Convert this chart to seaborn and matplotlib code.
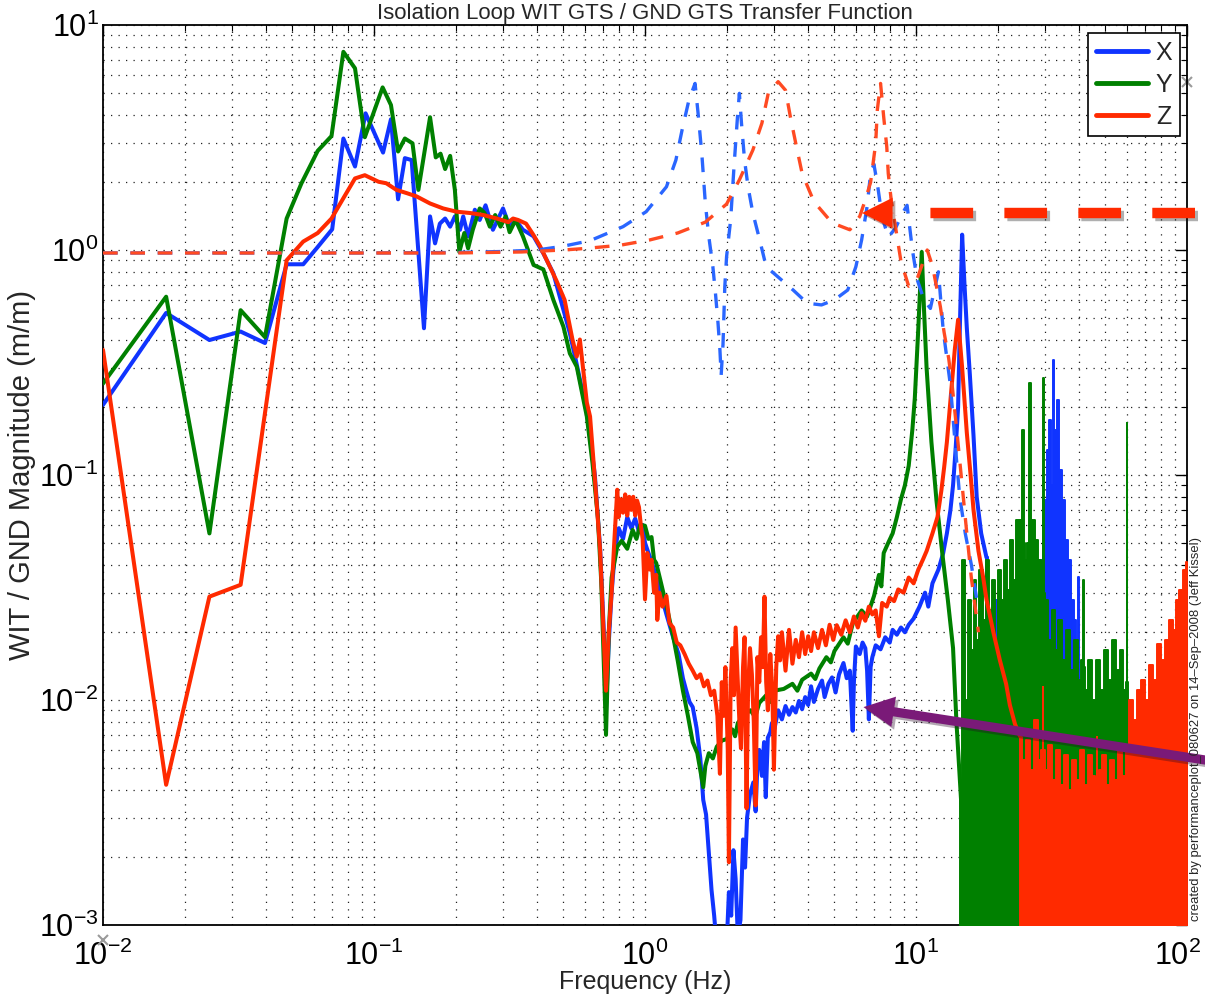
import matplotlib
matplotlib.use("Agg")
import matplotlib.pyplot as plt
import matplotlib.patheffects as pe
import numpy as np
import pandas as pd
import seaborn as sns
from matplotlib.ticker import LogLocator, NullFormatter, LogFormatterSciNotation
from matplotlib.transforms import ScaledTranslation

# ---------------------------------------------------------------- data
# Measured WIT/GND transfer function magnitudes, (frequency Hz, magnitude m/m)
x_points = [
    (0.01, 0.205), (0.0171, 0.525), (0.0247, 0.398), (0.0322, 0.434), (0.0396, 0.386),
    (0.0476, 0.864), (0.0548, 0.864), (0.0614, 1.017), (0.0701, 1.236), (0.0771, 3.13),
    (0.0851, 2.35), (0.0931, 4.05), (0.108, 2.71), (0.1155, 3.81), (0.1227, 1.68),
    (0.130, 2.56), (0.1377, 2.51), (0.1529, 0.449), (0.161, 1.41), (0.168, 1.07),
    (0.175, 1.31), (0.183, 1.38), (0.191, 1.27), (0.1988, 1.41), (0.2077, 1.23),
    (0.2134, 1.41), (0.2225, 1.15), (0.2356, 1.51), (0.2455, 1.36), (0.258, 1.58),
    (0.2747, 1.23), (0.2993, 1.53), (0.3165, 1.27), (0.333, 1.36), (0.3544, 1.23),
    (0.388, 1.15), (0.4216, 0.966), (0.459, 0.788), (0.50, 0.541), (0.528, 0.427),
    (0.56, 0.31), (0.61, 0.19), (0.653, 0.1), (0.683, 0.047), (0.705, 0.02),
    (0.718, 0.009), (0.735, 0.018), (0.753, 0.03), (0.775, 0.046), (0.80, 0.058),
    (0.83, 0.052), (0.86, 0.065), (0.89, 0.058), (0.92, 0.064), (0.95, 0.056),
    (0.98, 0.06), (1.0, 0.05), (1.03, 0.045), (1.06, 0.041), (1.1, 0.035),
    (1.15, 0.029), (1.2, 0.024), (1.27, 0.019), (1.33, 0.016), (1.38, 0.0125),
    (1.42, 0.011), (1.46, 0.0098), (1.5, 0.0093), (1.55, 0.0075), (1.6, 0.0055),
    (1.64, 0.0036), (1.68, 0.0031), (1.72, 0.0021), (1.76, 0.00143), (1.80, 0.0011),
    (1.84, 0.0008), (1.9, 0.0007), (1.95, 0.0009), (2.0, 0.0008), (2.04, 0.0014),
    (2.08, 0.0011), (2.12, 0.00215), (2.16, 0.0016), (2.2, 0.0009), (2.25, 0.00105),
    (2.3, 0.0024), (2.34, 0.0018), (2.38, 0.003), (2.44, 0.0038), (2.51, 0.0043),
    (2.56, 0.0032), (2.6, 0.0052), (2.64, 0.006), (2.7, 0.0046), (2.75, 0.0065),
    (2.79, 0.0037), (2.84, 0.0068), (2.9, 0.0072), (2.94, 0.0079), (3.0, 0.0074),
    (3.1, 0.009), (3.2, 0.0082), (3.3, 0.0094), (3.4, 0.0086), (3.5, 0.0093),
    (3.6, 0.0088), (3.7, 0.0099), (3.8, 0.0091), (3.9, 0.0103), (4.0, 0.0095),
    (4.1, 0.0115), (4.2, 0.0098), (4.35, 0.0112), (4.5, 0.0122), (4.6, 0.0103),
    (4.75, 0.0118), (4.9, 0.0126), (5.05, 0.0108), (5.2, 0.013), (5.4, 0.0146),
    (5.55, 0.0125), (5.7, 0.0135), (5.84, 0.0073), (5.9, 0.012), (6.0, 0.0173),
    (6.2, 0.016), (6.35, 0.018), (6.5, 0.017), (6.6, 0.0135), (6.7, 0.0082),
    (6.8, 0.014), (6.9, 0.0155), (7.1, 0.0175), (7.4, 0.0168), (7.7, 0.019),
    (8.0, 0.018), (8.2, 0.0205), (8.5, 0.0195), (8.8, 0.021), (9.1, 0.02),
    (9.4, 0.0216), (9.8, 0.023), (10.3, 0.026), (10.8, 0.03), (11.1, 0.026),
    (11.5, 0.033), (12.1, 0.038), (12.6, 0.045), (13.0, 0.055), (13.4, 0.07),
    (13.7, 0.09), (14.0, 0.13), (14.3, 0.2), (14.5, 0.43), (14.8, 1.17),
    (15.1, 0.7), (15.4, 0.45), (15.8, 0.28), (16.3, 0.15), (16.75, 0.08),
    (17.4, 0.055), (18.2, 0.043),
]

y_points = [
    (0.01, 0.255), (0.0171, 0.62), (0.0247, 0.055), (0.0322, 0.54), (0.0396, 0.41),
    (0.0476, 1.38), (0.054, 1.98), (0.062, 2.76), (0.0697, 3.21), (0.0771, 7.6),
    (0.0851, 6.42), (0.0925, 3.17), (0.1076, 5.28), (0.1155, 4.41), (0.1227, 2.74),
    (0.130, 3.13), (0.1387, 2.98), (0.1458, 1.85), (0.161, 3.89), (0.169, 2.58),
    (0.176, 2.68), (0.183, 2.29), (0.191, 2.62), (0.1988, 1.85), (0.2065, 0.98),
    (0.2154, 1.19), (0.2225, 1.017), (0.2315, 1.23), (0.2455, 1.53), (0.256, 1.46),
    (0.2675, 1.27), (0.28, 1.43), (0.293, 1.27), (0.306, 1.41), (0.3165, 1.2),
    (0.333, 1.36), (0.3544, 1.15), (0.388, 0.858), (0.4216, 0.82), (0.459, 0.6),
    (0.50, 0.456), (0.528, 0.347), (0.56, 0.303), (0.61, 0.182), (0.64, 0.113),
    (0.67, 0.065), (0.69, 0.033), (0.718, 0.007), (0.735, 0.02), (0.753, 0.035),
    (0.79, 0.048), (0.82, 0.051), (0.86, 0.047), (0.9, 0.057), (0.93, 0.052),
    (0.96, 0.06), (1.0, 0.0595), (1.03, 0.052), (1.057, 0.053), (1.08, 0.042),
    (1.1, 0.0406), (1.14, 0.034), (1.17, 0.0298), (1.22, 0.024), (1.27, 0.0192),
    (1.32, 0.015), (1.38, 0.011), (1.44, 0.0085), (1.5, 0.0065), (1.56, 0.0058),
    (1.64, 0.0041), (1.67, 0.0051), (1.72, 0.0058), (1.78, 0.0055), (1.84, 0.0062),
    (1.92, 0.0066), (2.0, 0.0067), (2.1, 0.0074), (2.15, 0.0069), (2.2, 0.0079),
    (2.3, 0.0085), (2.45, 0.009), (2.55, 0.0084), (2.64, 0.0097), (2.8, 0.0105),
    (2.9, 0.0098), (3.0, 0.011), (3.25, 0.0112), (3.5, 0.0118), (3.65, 0.011),
    (3.8, 0.0123), (4.1, 0.0131), (4.25, 0.0124), (4.4, 0.0138), (4.67, 0.0155),
    (4.85, 0.0147), (5.0, 0.0165), (5.4, 0.019), (5.6, 0.0178), (5.85, 0.022),
    (6.3, 0.025), (6.6, 0.0235), (7.0, 0.029), (7.3, 0.036), (7.45, 0.032),
    (7.6, 0.045), (7.9, 0.05), (8.2, 0.055), (8.5, 0.065), (8.8, 0.078),
    (9.1, 0.09), (9.4, 0.11), (9.7, 0.16), (9.9, 0.22), (10.2, 0.45),
    (10.5, 0.98), (10.7, 0.55), (10.94, 0.30), (11.4, 0.14), (11.9, 0.077),
    (12.5, 0.045), (13.1, 0.028), (13.7, 0.017), (14.1, 0.008), (14.9, 0.0026),
    (15.8, 0.002),
]

z_points = [
    (0.01, 0.36), (0.0171, 0.0042), (0.0247, 0.0288), (0.0322, 0.0325), (0.0476, 0.9),
    (0.0548, 1.09), (0.062, 1.19), (0.0697, 1.38), (0.0771, 1.70), (0.0851, 2.08),
    (0.0925, 2.15), (0.104, 2.01), (0.111, 1.98), (0.121, 1.85), (0.132, 1.79),
    (0.1437, 1.73), (0.161, 1.61), (0.18, 1.53), (0.2015, 1.48), (0.2265, 1.46),
    (0.2535, 1.43), (0.284, 1.38), (0.313, 1.33), (0.326, 1.38), (0.34, 1.36),
    (0.364, 1.31), (0.387, 1.17), (0.41, 1.04), (0.44, 0.87), (0.47, 0.736),
    (0.505, 0.6), (0.54, 0.4), (0.56, 0.336), (0.575, 0.40), (0.61, 0.21),
    (0.627, 0.182), (0.655, 0.092), (0.683, 0.046), (0.718, 0.011), (0.735, 0.02),
    (0.753, 0.030), (0.77, 0.05), (0.79, 0.086), (0.80, 0.065), (0.815, 0.078),
    (0.83, 0.068), (0.845, 0.082), (0.86, 0.066), (0.875, 0.08), (0.89, 0.07),
    (0.905, 0.08), (0.92, 0.066), (0.935, 0.077), (0.95, 0.072), (0.965, 0.06),
    (0.98, 0.052), (1.0, 0.028), (1.02, 0.045), (1.04, 0.038), (1.057, 0.042),
    (1.08, 0.03), (1.1, 0.036), (1.11, 0.0227), (1.13, 0.03), (1.16, 0.026),
    (1.2, 0.029), (1.23, 0.022), (1.27, 0.021), (1.31, 0.018), (1.35, 0.0175),
    (1.4, 0.016), (1.45, 0.0145), (1.5, 0.0135), (1.55, 0.0125), (1.6, 0.013),
    (1.65, 0.0115), (1.7, 0.0122), (1.75, 0.0105), (1.8, 0.011), (1.85, 0.0085),
    (1.89, 0.0047), (1.92, 0.012), (1.95, 0.0085), (1.98, 0.014), (2.02, 0.006),
    (2.04, 0.0019), (2.07, 0.012), (2.1, 0.017), (2.13, 0.0105), (2.16, 0.021),
    (2.2, 0.012), (2.23, 0.008), (2.26, 0.0061), (2.3, 0.014), (2.33, 0.019),
    (2.37, 0.0033), (2.4, 0.011), (2.44, 0.017), (2.48, 0.013), (2.52, 0.008),
    (2.56, 0.0034), (2.6, 0.0155), (2.64, 0.012), (2.68, 0.019), (2.72, 0.014),
    (2.76, 0.0288), (2.8, 0.012), (2.84, 0.009), (2.9, 0.016), (2.95, 0.011),
    (2.99, 0.0049), (3.05, 0.014), (3.1, 0.0192), (3.15, 0.015), (3.2, 0.02),
    (3.3, 0.0135), (3.4, 0.0205), (3.5, 0.0145), (3.6, 0.0185), (3.7, 0.0155),
    (3.8, 0.02), (3.9, 0.016), (4.0, 0.0192), (4.1, 0.0165), (4.2, 0.02),
    (4.35, 0.017), (4.5, 0.0205), (4.65, 0.0175), (4.8, 0.0216), (4.95, 0.0185),
    (5.1, 0.0215), (5.3, 0.0195), (5.5, 0.0226), (5.7, 0.02), (5.9, 0.0235),
    (6.1, 0.021), (6.3, 0.0243), (6.5, 0.0225), (6.7, 0.026), (6.9, 0.024),
    (7.1, 0.025), (7.3, 0.0192), (7.5, 0.027), (7.8, 0.026), (8.0, 0.0285),
    (8.3, 0.0275), (8.6, 0.031), (9.0, 0.03), (9.4, 0.035), (9.8, 0.033),
    (10.2, 0.038), (10.6, 0.042), (10.95, 0.046), (11.5, 0.055), (12.0, 0.065),
    (12.4, 0.085), (12.7, 0.108), (13.0, 0.14), (13.4, 0.215), (13.9, 0.36),
    (14.3, 0.49), (14.8, 0.30), (15.4, 0.154), (15.9, 0.1), (16.3, 0.07),
    (17.0, 0.046), (17.7, 0.035), (18.2, 0.028), (19.3, 0.02), (20.4, 0.015),
    (21.5, 0.0118), (22.2, 0.0095), (23.2, 0.0078), (24.2, 0.0069),
]

# Upper edge of the densely sampled high-frequency spectra (filled down to the floor)
x_band = [
    (18.2, 0.043), (18.76, 0.0227), (19.74, 0.0278), (20.25, 0.0185), (21.3, 0.0251),
    (22.42, 0.0205), (23.0, 0.0278), (24.21, 0.0185), (25.47, 0.0251), (26.36, 0.0278),
    (27.74, 0.0227), (28.7, 0.0419), (30.2, 0.0774), (30.7, 0.129), (31.24, 0.1755),
    (31.8, 0.09), (32.05, 0.324), (32.4, 0.12), (32.88, 0.158), (33.44, 0.215),
    (34.02, 0.105), (34.9, 0.0774), (35.77, 0.0514), (36.7, 0.0419), (37.65, 0.0278),
    (38.62, 0.0227), (39.3, 0.012), (39.62, 0.0352), (40.0, 0.012), (40.3, 0.01),
    (42.05, 0.00815),
]
y_band = [
    (14.54, 0.0036), (14.91, 0.0419), (15.29, 0.01), (15.69, 0.0278), (16.09, 0.0167),
    (16.51, 0.0341), (16.93, 0.0185), (17.37, 0.0378), (17.82, 0.0227), (18.28, 0.0419),
    (18.76, 0.0251), (19.24, 0.0341), (19.74, 0.0185), (20.25, 0.0378), (20.77, 0.0278),
    (21.3, 0.0419), (21.86, 0.0308), (22.42, 0.0514), (23.0, 0.0341), (23.6, 0.063),
    (24.21, 0.063), (24.6, 0.05), (24.83, 0.158), (25.1, 0.05), (25.47, 0.0419),
    (26.1, 0.05), (26.36, 0.256), (26.6, 0.055), (27.04, 0.063), (27.74, 0.0514),
    (28.7, 0.0419), (29.2, 0.035), (29.44, 0.27), (29.7, 0.03), (30.2, 0.0278),
    (31.24, 0.0185), (32.05, 0.0251), (32.88, 0.0167), (34.02, 0.0227), (35.16, 0.0151),
    (36.39, 0.0205), (37.65, 0.0136), (38.95, 0.0185), (40.3, 0.0123), (41.0, 0.015),
    (41.34, 0.0341), (41.7, 0.014), (42.41, 0.0111), (43.86, 0.0151), (45.38, 0.01),
    (46.95, 0.0151), (48.57, 0.0111), (50.25, 0.0167), (51.99, 0.0123), (53.78, 0.0185),
    (55.64, 0.0136), (57.56, 0.0167), (59.04, 0.0111), (59.7, 0.012), (60.06, 0.17),
    (60.4, 0.012), (61.09, 0.01),
]
z_band = [
    (24.21, 0.00685), (25.1, 0.0054), (25.9, 0.00664), (26.7, 0.00489), (27.74, 0.00815),
    (28.7, 0.00541), (29.3, 0.006), (29.44, 0.0114), (29.6, 0.006), (30.2, 0.00489),
    (31.24, 0.00631), (32.3, 0.00441), (33.4, 0.006), (34.6, 0.00419), (35.8, 0.0057),
    (37.1, 0.00398), (38.3, 0.0054), (39.6, 0.00441), (41.0, 0.006), (42.4, 0.00419),
    (43.9, 0.0057), (45.4, 0.00461), (46.3, 0.0045), (46.56, 0.00685), (46.8, 0.0045),
    (47.75, 0.00489), (49.4, 0.0057), (51.1, 0.00419), (52.9, 0.0054), (54.7, 0.00441),
    (56.6, 0.006), (58.5, 0.0046), (60.6, 0.00631), (62.1, 0.01), (64.3, 0.00815),
    (66.5, 0.0111), (68.8, 0.0123), (71.2, 0.01), (73.6, 0.0143), (76.2, 0.0123),
    (78.8, 0.0177), (81.5, 0.0151), (84.4, 0.0185), (87.3, 0.0227), (90.3, 0.0205),
    (92.6, 0.0278), (95.0, 0.0308), (97.5, 0.0378), (100.0, 0.041),
]
band_floor = 8e-4

# Model (expected) loop transfer functions
x_model = [
    (0.01, 0.97), (0.1, 0.97), (0.2, 0.975), (0.3, 0.985), (0.4, 1.0), (0.5, 1.04),
    (0.627, 1.1), (0.83, 1.27), (1.01, 1.48), (1.2, 1.91), (1.3, 2.51), (1.37, 3.41),
    (1.45, 4.6), (1.53, 5.5), (1.57, 4.05), (1.62, 2.69), (1.67, 1.61), (1.72, 1.146),
    (1.78, 0.843), (1.82, 0.641), (1.86, 0.472), (1.89, 0.36), (1.91, 0.278), (1.94, 0.38),
    (1.97, 0.687), (2.0, 0.934), (2.07, 1.36), (2.13, 2.34), (2.19, 3.78), (2.23, 4.97),
    (2.27, 3.66), (2.33, 2.51), (2.4, 1.91), (2.5, 1.46), (2.65, 1.108), (2.8, 0.843),
    (3.52, 0.664), (3.97, 0.58), (4.48, 0.57), (5.0, 0.6), (5.6, 0.664), (6.0, 0.843),
    (6.3, 1.108), (6.6, 1.56), (6.8, 2.19), (6.99, 2.41), (7.2, 1.97), (7.5, 1.4),
    (7.9, 1.14), (8.4, 1.25), (8.9, 1.45), (9.27, 1.58), (9.7, 1.0), (10.1, 0.74),
    (10.7, 0.6), (11.3, 0.55), (11.8, 0.7), (12.1, 0.8), (12.6, 0.44), (13.0, 0.33),
    (13.4, 0.25), (14.0, 0.13), (14.5, 0.08), (15.2, 0.055), (16.0, 0.04), (17.0, 0.025),
]
z_model = [
    (0.01, 0.97), (0.1, 0.97), (0.2, 0.97), (0.35, 0.98), (0.5, 1.0), (0.61, 1.017),
    (0.81, 1.05), (1.04, 1.108), (1.32, 1.19), (1.67, 1.33), (2.0, 1.6), (2.23, 2.05),
    (2.5, 2.78), (2.7, 3.66), (2.85, 4.97), (3.1, 5.6), (3.3, 5.13), (3.44, 3.9),
    (3.6, 2.98), (3.8, 2.19), (4.2, 1.64), (4.9, 1.32), (5.7, 1.23), (6.2, 1.41),
    (6.5, 1.67), (6.8, 2.0), (7.1, 2.98), (7.2, 4.2), (7.4, 5.5), (7.6, 3.9),
    (7.8, 2.88), (7.9, 2.19), (8.1, 1.67), (8.8, 0.89), (9.4, 0.69), (10.0, 0.72),
    (10.5, 0.85), (11.0, 1.0), (11.5, 0.85), (12.3, 0.56), (12.7, 0.43), (13.2, 0.33),
    (13.6, 0.25), (14.2, 0.15), (14.8, 0.09), (15.4, 0.055), (16.0, 0.035), (17.0, 0.02),
]

series_names = ["X", "Y", "Z"]
series_colors = {"X": "#1034ff", "Y": "#008000", "Z": "#ff2a00"}
model_colors = {"X": "#2a66ff", "Z": "#ff4a22"}

# Annotation anchors (frequency, magnitude)
red_arrow_tip = (6.32, 1.46)
red_arrow_base = (8.3, 1.46)
red_dash_span = ([107.0, 11.3], [1.46, 1.46])
purple_arrow_tip = (6.4, 0.0093)
purple_arrow_tail = (118.0, 0.0054)

title_text = "Isolation Loop WIT GTS / GND GTS Transfer Function"
credit_text = "created by performanceplot_080627 on 14\u2013Sep\u20132008 (Jeff Kissel)"

# ---------------------------------------------------------------- style
sns.set_theme(style="white")
plt.rcParams["font.family"] = ["Liberation Sans", "DejaVu Sans"]
plt.rcParams["mathtext.fontset"] = "custom"
plt.rcParams["mathtext.rm"] = "Liberation Sans"
plt.rcParams["mathtext.it"] = "Liberation Sans"
plt.rcParams["mathtext.default"] = "regular"

fig = plt.figure(figsize=(12.05, 9.98), dpi=100)
ax = fig.add_axes([103 / 1205, 73 / 998, 1084 / 1205, 900 / 998])
ax.set_xscale("log")
ax.set_yscale("log")


def to_frame(points, name):
    f, m = zip(*points)
    return pd.DataFrame({"freq": f, "mag": m, "axis": name})


measured = {"X": to_frame(x_points, "X"), "Y": to_frame(y_points, "Y"), "Z": to_frame(z_points, "Z")}
bands = {"X": to_frame(x_band, "X"), "Y": to_frame(y_band, "Y"), "Z": to_frame(z_band, "Z")}
models = {"X": to_frame(x_model, "X"), "Z": to_frame(z_model, "Z")}

LW = 2.9
for i, name in enumerate(series_names):
    col = series_colors[name]
    sns.lineplot(data=measured[name], x="freq", y="mag", ax=ax, color=col, lw=LW,
                 sort=False, estimator=None, label=name, zorder=3 + i)
    b = bands[name]
    ax.fill_between(b["freq"], band_floor, b["mag"], step="mid", color=col, lw=1.4,
                    edgecolor=col, zorder=3 + i)

for i, name in enumerate(["X", "Z"]):
    sns.lineplot(data=models[name], x="freq", y="mag", ax=ax, color=model_colors[name],
                 lw=2.4, sort=False, estimator=None, zorder=7 + i)
    ax.lines[-1].set_dashes((4.4, 3.8))
    ax.lines[-1].set_dash_capstyle("butt")

# ---------------------------------------------------------------- axes
ax.set_xlim(1e-2, 1e2)
ax.set_ylim(1e-3, 1e1)
ax.xaxis.set_major_locator(LogLocator(base=10, numticks=10))
ax.yaxis.set_major_locator(LogLocator(base=10, numticks=10))
ax.xaxis.set_minor_locator(LogLocator(base=10, subs=np.arange(2, 10), numticks=50))
ax.yaxis.set_minor_locator(LogLocator(base=10, subs=np.arange(2, 10), numticks=50))
ax.xaxis.set_minor_formatter(NullFormatter())
ax.yaxis.set_minor_formatter(NullFormatter())
ax.xaxis.set_major_formatter(LogFormatterSciNotation())
ax.yaxis.set_major_formatter(LogFormatterSciNotation())

ax.grid(True, which="both", color="#222222", lw=0.9, linestyle=(0, (1, 5)), zorder=0)
ax.set_axisbelow(True)
ax.tick_params(which="both", direction="in", top=True, right=True, colors="black",
               labelsize=22)
ax.tick_params(which="major", length=8, width=1.0)
ax.tick_params(which="minor", length=4, width=0.8)
ax.tick_params(axis="x", pad=11)
ax.tick_params(axis="y", pad=3)
for s in ax.spines.values():
    s.set_color("black")
    s.set_linewidth(1.3)

ax.set_xlabel("Frequency (Hz)", fontsize=18)
ax.set_ylabel("WIT / GND Magnitude (m/m)", fontsize=21)
ax.xaxis.set_label_coords(0.5, -(970 - 925) / 900)
ax.yaxis.set_label_coords(-(103 - 36) / 1084, 0.5)

leg = ax.legend(loc="upper right", bbox_to_anchor=(1 - 7 / 1084, 1 - 8 / 900),
                borderaxespad=0, fontsize=18, frameon=True, fancybox=False,
                edgecolor="black", framealpha=1, handlelength=2.1, handletextpad=0.3,
                labelspacing=0.32, borderpad=0.3)
leg.get_frame().set_linewidth(1.2)
for h in leg.legend_handles:
    h.set_linewidth(3.5)

# ---------------------------------------------------------------- annotations
shadow = [pe.SimplePatchShadow(offset=(2, -2), alpha=0.35), pe.Normal()]
line_shadow = [pe.SimpleLineShadow(offset=(2, -2), alpha=0.35), pe.Normal()]

ax.plot(*red_dash_span, color="#ff2a00", lw=7.5, dashes=(4.1, 3.0),
        dash_capstyle="butt", clip_on=False, zorder=20, path_effects=line_shadow)
ax.annotate("", xy=red_arrow_tip, xytext=red_arrow_base, annotation_clip=False,
            arrowprops=dict(arrowstyle="simple,head_length=1.0,head_width=1.0,tail_width=0.01",
                            mutation_scale=22, color="#ff2a00", lw=0, shrinkA=0, shrinkB=0,
                            path_effects=shadow), zorder=20)
ax.annotate("", xy=purple_arrow_tip, xytext=purple_arrow_tail, annotation_clip=False,
            arrowprops=dict(arrowstyle="simple,head_length=1.0,head_width=1.0,tail_width=0.3",
                            mutation_scale=22, color="#7a1a78", lw=0, shrinkA=0, shrinkB=0,
                            path_effects=shadow), zorder=21)

ax.plot([1e-2, 100], [8.6e-4, 5.6], ls="none", marker="x", ms=7, mew=1.5,
        color="#9a9a9a", clip_on=False, zorder=1)

fig.text(0.535, 1 - 19 / 998, title_text, ha="center", va="baseline", fontsize=16)
fig.text(1196 / 1205, 1 - 921 / 998, credit_text, rotation=90, ha="center",
         va="bottom", fontsize=9.4)

# keep the last frequency label inside the canvas
fig.canvas.draw()
for tick in ax.xaxis.get_major_ticks():
    if np.isclose(tick.get_loc(), 100.0):
        lab = tick.label1
        lab.set_transform(lab.get_transform() + ScaledTranslation(-0.09, 0, fig.dpi_scale_trans))

fig.savefig("out.png", dpi=100)
